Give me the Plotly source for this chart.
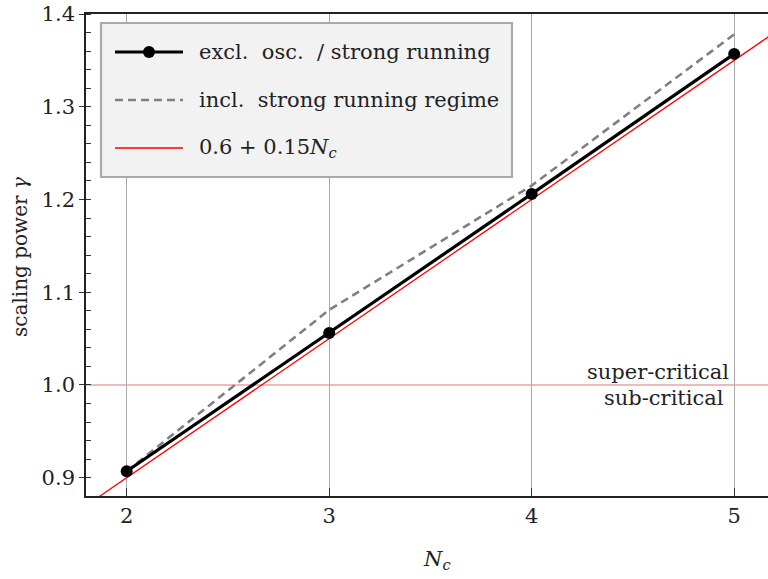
import plotly.graph_objects as go

# Number of colours N_c and fitted scaling power gamma
n_colours = [2, 3, 4, 5]
gamma_excl = [0.907, 1.056, 1.206, 1.357]   # excl. osc. / strong running
gamma_incl = [0.907, 1.081, 1.215, 1.378]   # incl. strong running regime

# Linear fit shown in the legend: 0.6 + 0.15 N_c
fit_intercept = 0.6
fit_slope = 0.15
fit_n = [1.7, 5.3]
fit_gamma = [fit_intercept + fit_slope * n for n in fit_n]

critical_gamma = 1.0

x_ticks = [2, 3, 4, 5]
y_ticks = [0.9, 1.0, 1.1, 1.2, 1.3, 1.4]

FONT = "DejaVu Serif"
FS = 21

W, H = 768, 579
L, R, T, B = 86, 0, 14, 83
pw, ph = W - L - R, H - T - B


def px(x):
    return (x - L) / pw


def py(y):
    return (H - B - y) / ph


fig = go.Figure()

fig.add_trace(go.Scatter(
    x=n_colours, y=gamma_incl, mode="lines",
    line=dict(color="#808080", width=2.6, dash="8px,5px"),
    showlegend=False,
))
fig.add_trace(go.Scatter(
    x=n_colours, y=gamma_excl, mode="lines",
    line=dict(color="black", width=3.2),
    showlegend=False,
))
fig.add_trace(go.Scatter(
    x=fit_n, y=fit_gamma, mode="lines",
    line=dict(color="red", width=1.3),
    showlegend=False,
))
fig.add_trace(go.Scatter(
    x=n_colours, y=gamma_excl, mode="markers",
    marker=dict(color="black", size=12),
    showlegend=False,
))

# critical line gamma = 1
fig.add_shape(type="line", xref="paper", yref="y", x0=0, x1=1,
              y0=critical_gamma, y1=critical_gamma,
              line=dict(color="rgba(215,90,90,0.55)", width=1.6), layer="below")

fig.add_annotation(x=4.985, y=critical_gamma, xref="x", yref="y",
                   text="super-critical", showarrow=False,
                   xanchor="right", yanchor="bottom", yshift=-1,
                   font=dict(family=FONT, size=FS, color="#222"))
fig.add_annotation(x=4.96, y=critical_gamma, xref="x", yref="y",
                   text="sub-critical", showarrow=False,
                   xanchor="right", yanchor="top", yshift=1,
                   font=dict(family=FONT, size=FS, color="#222"))

# legend box
box = dict(x0=101, x1=512, y0=23, y1=177)
fig.add_shape(type="rect", xref="paper", yref="paper",
              x0=px(box["x0"]), x1=px(box["x1"]), y0=py(box["y1"]), y1=py(box["y0"]),
              fillcolor="#f2f2f2", line=dict(color="#aaaaaa", width=2.2), layer="above")

rows = [52, 100, 148]
lx0, lx1, tx = 115, 183, 197
fig.add_shape(type="line", xref="paper", yref="paper",
              x0=px(lx0), x1=px(lx1), y0=py(rows[0]), y1=py(rows[0]),
              line=dict(color="black", width=3.2), layer="above")
fig.add_shape(type="circle", xref="paper", yref="paper",
              xsizemode="pixel", ysizemode="pixel",
              xanchor=px((lx0 + lx1) / 2), yanchor=py(rows[0]),
              x0=-6, x1=6, y0=-6, y1=6,
              fillcolor="black", line=dict(color="black", width=0), layer="above")
fig.add_shape(type="line", xref="paper", yref="paper",
              x0=px(lx0), x1=px(lx1), y0=py(rows[1]), y1=py(rows[1]),
              line=dict(color="#808080", width=2.6, dash="8px,5px"), layer="above")
fig.add_shape(type="line", xref="paper", yref="paper",
              x0=px(lx0), x1=px(lx1), y0=py(rows[2]), y1=py(rows[2]),
              line=dict(color="red", width=1.3), layer="above")

legend_texts = [
    "excl.\u00a0 osc.\u00a0 / strong running",
    "incl.\u00a0 strong running regime",
    "0.6 + 0.15<i>N<sub>c</sub></i>",
]
for r, t in zip(rows, legend_texts):
    fig.add_annotation(x=px(tx), y=py(r), xref="paper", yref="paper",
                       text=t, showarrow=False, xanchor="left", yanchor="middle",
                       font=dict(family=FONT, size=FS, color="#222"))

# axis titles
fig.add_annotation(x=px(20), y=py(257), xref="paper", yref="paper",
                   text="scaling power <i>γ</i>", showarrow=False, textangle=-90,
                   xanchor="center", yanchor="middle",
                   font=dict(family=FONT, size=FS - 1, color="#222"))
fig.add_annotation(x=px(437), y=py(560), xref="paper", yref="paper",
                   text="<i>N<sub>c</sub></i>", showarrow=False,
                   xanchor="center", yanchor="middle",
                   font=dict(family=FONT, size=FS, color="#222"))

fig.update_layout(
    width=W, height=H,
    margin=dict(l=L, r=R, t=T, b=B),
    paper_bgcolor="white", plot_bgcolor="white",
    showlegend=False,
    font=dict(family=FONT, size=FS, color="#222"),
)
fig.update_xaxes(
    range=[1.799, 5.167],
    tickvals=x_ticks, ticktext=[str(v) for v in x_ticks],
    ticks="inside", ticklen=8, tickwidth=1.2, tickcolor="#333",
    showgrid=True, gridcolor="#a8a8a8", gridwidth=1,
    showline=True, linecolor="#222", linewidth=1.6, mirror=True,
    zeroline=False,
    tickfont=dict(family=FONT, size=FS, color="#222"),
)
fig.update_yaxes(
    range=[0.8803, 1.4],
    tickvals=y_ticks, ticktext=[f"{v:.1f}" for v in y_ticks],
    ticks="outside", ticklen=5, tickwidth=1.2, tickcolor="#333",
    minor=dict(dtick=0.02, tick0=0.9, ticks="inside", ticklen=5,
               tickwidth=1, tickcolor="#333", showgrid=False),
    showgrid=False,
    showline=True, linecolor="#222", linewidth=1.6,
    zeroline=False,
    tickfont=dict(family=FONT, size=FS, color="#222"),
)

fig.write_html("out.html")
